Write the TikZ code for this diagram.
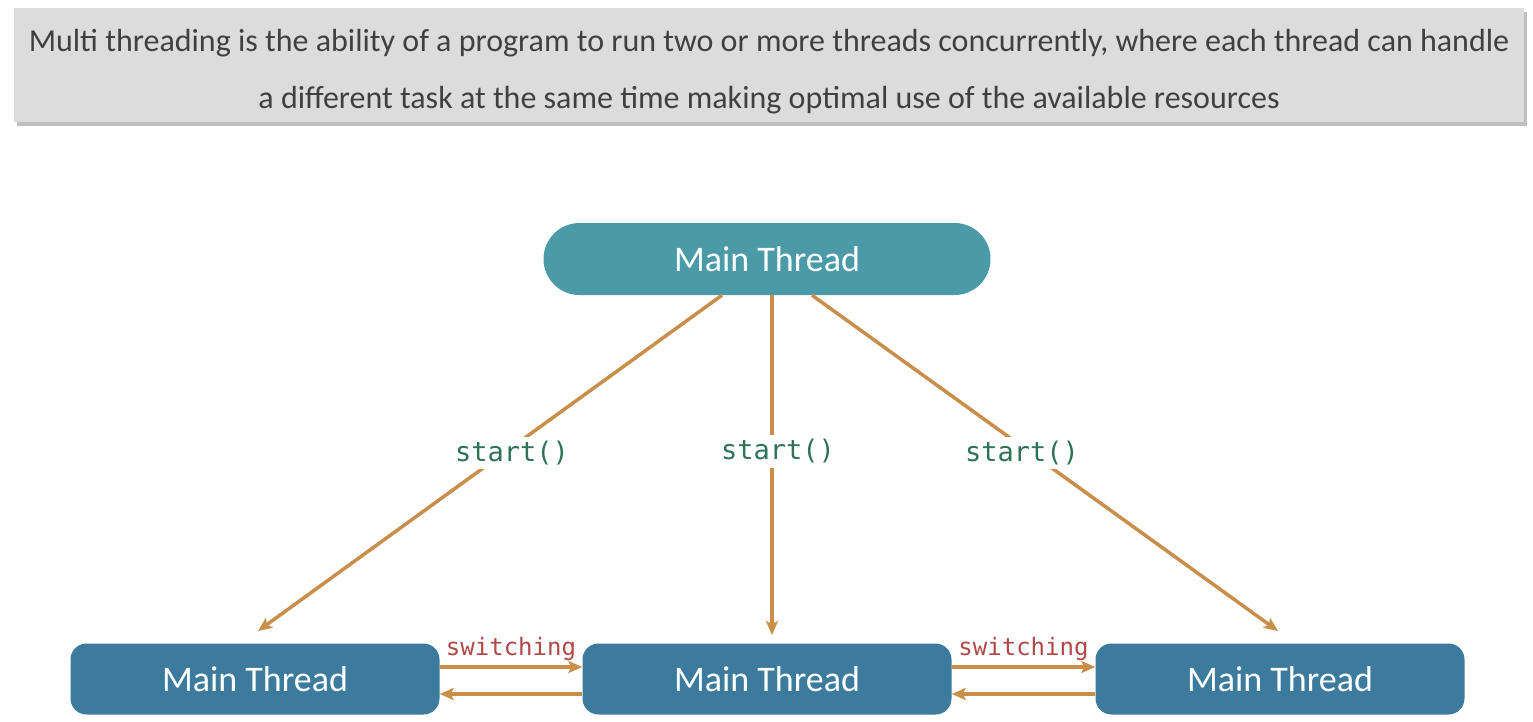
\documentclass[tikz,border=0pt]{standalone}
\usepackage{fontspec}
\setmainfont{Carlito}
\setmonofont{DejaVu Sans Mono}
\usetikzlibrary{arrows.meta}

\definecolor{banner}{HTML}{DCDCDC}
\definecolor{bannertext}{HTML}{404040}
\definecolor{topthread}{HTML}{4A9AA8}
\definecolor{thread}{HTML}{3D7B9E}
\definecolor{link}{HTML}{C98F4A}
\definecolor{startgreen}{HTML}{2F7357}
\definecolor{switchred}{HTML}{B04848}

\tikzset{
  threadbox/.style={fill=thread, text=white, rounded corners=16pt,
    minimum width=369pt, minimum height=71pt, font=\fontsize{36}{42}\selectfont},
  link/.style={draw=link, line width=3.5pt, -{Stealth[length=14pt,width=12pt,inset=3pt]}},
  startlabel/.style={fill=white, text=startgreen, inner sep=4pt,
    font=\ttfamily\fontsize{27}{32}\selectfont},
  switchlabel/.style={text=switchred, inner sep=2pt,
    font=\ttfamily\fontsize{24}{28}\selectfont}
}

\begin{document}
\begin{tikzpicture}[x=1pt,y=-1pt]
\useasboundingbox (0,0) rectangle (1533,721);
\fill[white] (0,0) rectangle (1533,721);

% banner
\fill[black!25] (17,12) rectangle (1527,126);
\fill[banner] (14,8) rectangle (1524,122);
\node[text=bannertext, font=\fontsize{32}{57}\selectfont, align=center] (banner) at (769,72)
  {Multi threading is the ability of a program to run two or more threads concurrently, where each thread can handle\\
   a different task at the same time making optimal use of the available resources};

% threads
\node[fill=topthread, text=white, rounded corners=36pt, minimum width=447pt, minimum height=72pt,
  font=\fontsize{36}{42}\selectfont] (main) at (767,259) {Main Thread};
\node[threadbox] (left) at (255,679) {Main Thread};
\node[threadbox] (mid) at (767,679) {Main Thread};
\node[threadbox] (right) at (1280,679) {Main Thread};

\coordinate (lefttip) at (258,631);
\coordinate (midtip) at (772,635);
\coordinate (righttip) at (1278,631);

\draw[link] (main.south) ++(-45,0) coordinate (m1) (m1) -- (lefttip)
  node[startlabel, pos=0.47, xshift=8pt] (s1) {start()};
\draw[link] (main.south) ++(5,0) coordinate (m2) (m2) -- (midtip)
  node[startlabel, pos=0.46, xshift=6pt] (s2) {start()};
\draw[link] (main.south) ++(45,0) coordinate (m3) (m3) -- (righttip)
  node[startlabel, pos=0.47, xshift=-9pt] (s3) {start()};

% switching
\draw[link] ([yshift=12pt]left.east) -- ([yshift=12pt]mid.west)
  node[switchlabel, midway, above=3pt] (sw1) {switching};
\draw[link] ([yshift=-15pt]mid.west) -- ([yshift=-15pt]left.east);
\draw[link] ([yshift=12pt]mid.east) -- ([yshift=12pt]right.west)
  node[switchlabel, midway, above=3pt] (sw2) {switching};
\draw[link] ([yshift=-15pt]right.west) -- ([yshift=-15pt]mid.east);
\end{tikzpicture}
\end{document}
